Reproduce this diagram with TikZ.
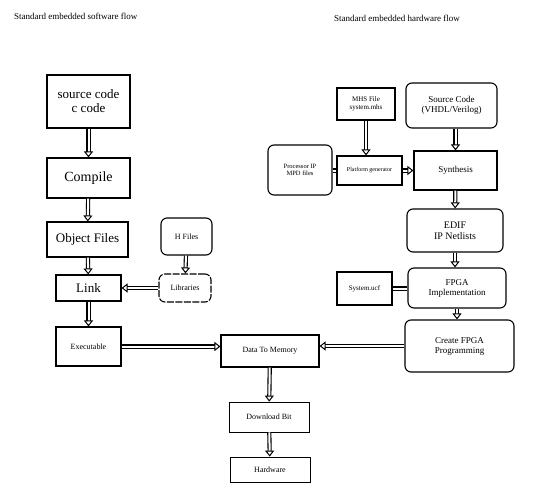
\documentclass[tikz,border=0pt]{standalone}
\usepackage{fontspec}
\setmainfont{Liberation Serif}
\usetikzlibrary{arrows.meta,calc}
\begin{document}
\begin{tikzpicture}[x=1pt,y=-1pt,
  bx/.style={draw, line width=1.1pt, inner sep=1pt, align=center},
  rbx/.style={bx, rounded corners=6pt},
  flow/.style={draw, double, double distance=2pt, line width=1.1pt, -{Triangle[open,length=6pt,width=9pt,line width=1pt]}},
  dline/.style={draw, double, double distance=2pt, line width=1.1pt},
  ttl/.style={anchor=west, inner sep=0pt, font=\fontsize{9}{10}\selectfont}]
\useasboundingbox (0,0) rectangle (538,487);
\fill[white] (0,0) rectangle (538,487);
% titles
\node[ttl] (t1) at (14,16) {Standard embedded software flow};
\node[ttl] (t2) at (334,18) {Standard embedded hardware flow};
% left column
\node[bx, minimum width=83pt, minimum height=53pt, font=\fontsize{13}{14}\selectfont] (src) at (88.5,101.5) {source code\\c code};
\node[bx, minimum width=83pt, minimum height=40pt, font=\fontsize{14}{15}\selectfont] (cmp) at (88.5,178) {Compile};
\node[bx, minimum width=81pt, minimum height=35pt, font=\fontsize{13}{14}\selectfont] (obj) at (87.5,239.5) {Object Files};
\node[bx, minimum width=65pt, minimum height=26pt, font=\fontsize{13}{14}\selectfont] (lnk) at (88.5,288) {Link};
\node[bx, minimum width=65pt, minimum height=39pt, font=\fontsize{8}{9}\selectfont] (exe) at (88.5,346.5) {Executable};
\node[rbx, minimum width=51pt, minimum height=37pt, font=\fontsize{8}{9}\selectfont] (hf) at (186.5,236.5) {H Files};
\node[rbx, dash pattern=on 7pt off 1.5pt, minimum width=52pt, minimum height=28pt, font=\fontsize{8}{9}\selectfont] (lib) at (185,288) {Libraries};
\node[bx, minimum width=98pt, minimum height=32pt, font=\fontsize{8}{9}\selectfont] (dtm) at (270,351) {Data To Memory};
\node[bx, line width=0.8pt, minimum width=80pt, minimum height=30pt, font=\fontsize{8}{9}\selectfont] (dlb) at (269,417) {Download Bit};
\node[bx, line width=0.8pt, minimum width=80pt, minimum height=25pt, font=\fontsize{8}{9}\selectfont] (hw) at (270,469.5) {Hardware};
% right column
\node[bx, minimum width=58pt, minimum height=32pt, font=\fontsize{7}{8}\selectfont] (mhs) at (366,104) {MHS File\\system.mhs};
\node[rbx, minimum width=91pt, minimum height=45pt, font=\fontsize{9}{10}\selectfont] (srcv) at (451.5,105.5) {Source Code\\(VHDL/Verilog)};
\node[bx, minimum width=65pt, minimum height=29pt, font=\fontsize{6}{7}\selectfont] (pg) at (369.5,170.5) {Platform generator};
\node[rbx, minimum width=64pt, minimum height=50pt, font=\fontsize{6.5}{7.5}\selectfont] (pip) at (300,170) {Processor IP\\MPD files};
\node[bx, minimum width=83pt, minimum height=39pt, font=\fontsize{9}{10}\selectfont] (syn) at (455.5,170.5) {Synthesis};
\node[rbx, minimum width=96pt, minimum height=43pt, font=\fontsize{10}{11}\selectfont] (edif) at (455,230.5) {EDIF\\IP Netlists};
\node[rbx, minimum width=98pt, minimum height=40pt, font=\fontsize{9}{10}\selectfont] (fpga) at (457,288) {FPGA\\Implementation};
\node[bx, minimum width=55pt, minimum height=33pt, font=\fontsize{7}{8}\selectfont] (ucf) at (364.5,288.5) {System.ucf};
\node[rbx, minimum width=109pt, minimum height=52pt, font=\fontsize{9}{10}\selectfont] (cfp) at (459.5,346) {Create FPGA\\Programming};
% left connectors
\draw[flow] (src) -- (cmp);
\draw[flow] (cmp) -- (obj);
\draw[flow] (obj) -- (lnk);
\draw[flow] (lnk) -- (exe);
\draw[flow] (hf) -- (lib);
\draw[flow] (lib) -- (lnk);
\draw[flow] (exe.east) -- (exe.east -| dtm.west);
\draw[flow] (cfp.west) -- (cfp.west -| dtm.east);
\draw[flow] (dtm) -- (dlb);
\draw[flow] (dlb) -- (hw);
% right connectors
\draw[flow] (mhs) -- (mhs |- pg.north);
\draw[dline] (pip.east |- pg.west) -- (pg.west);
\draw[flow] (pg.east) -- (syn.west |- pg.east);
\draw[flow] (srcv.south -| syn.north) -- (syn.north);
\draw[flow] (syn) -- (edif);
\draw[flow] (edif) -- (edif |- fpga.north);
\draw[flow] (fpga) -- (fpga |- cfp.north);
\draw[dline] (ucf.east) -- (fpga.west |- ucf.east);
\end{tikzpicture}
\end{document}
